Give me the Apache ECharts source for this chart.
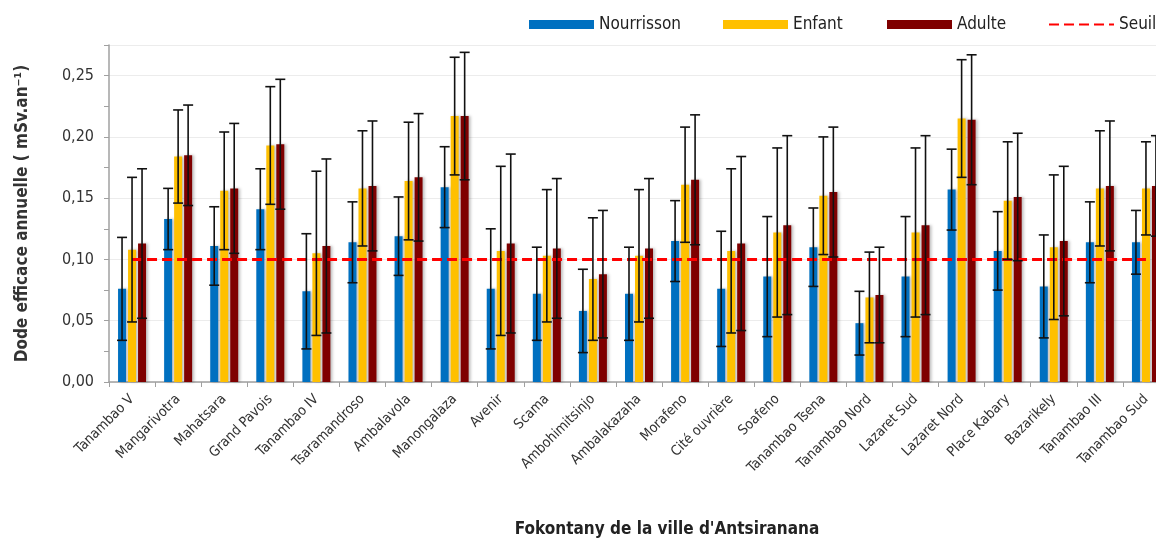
<!DOCTYPE html>
<html>
<head>
<meta charset="utf-8">
<script src="https://cdn.jsdelivr.net/npm/echarts@6/dist/echarts.min.js"></script>
<style>
  html, body { margin: 0; padding: 0; background: #fff; overflow: hidden; }
  /* the original figure is cropped on the right: draw slightly wider than the window */
  #chart { width: 1170px; height: 540px; }
</style>
</head>
<body>
<div id="chart"></div>
<script>
// fokontany (axe des x)
const categories = [
  "Tanambao V", "Mangarivotra", "Mahatsara", "Grand Pavois", "Tanambao IV",
  "Tsaramandroso", "Ambalavola", "Manongalaza", "Avenir", "Scama",
  "Ambohimitsinjo", "Ambalakazaha", "Morafeno", "Cité ouvrière", "Soafeno",
  "Tanambao Tsena", "Tanambao Nord", "Lazaret Sud", "Lazaret Nord", "Place Kabary",
  "Bazarikely", "Tanambao III", "Tanambao Sud"
];

// dose moyenne par classe d'âge
const nourrisson = [0.076, 0.133, 0.111, 0.141, 0.074, 0.114, 0.119, 0.159, 0.076, 0.072, 0.058, 0.072, 0.115, 0.076, 0.086, 0.110, 0.048, 0.086, 0.157, 0.107, 0.078, 0.114, 0.114];
const enfant = [0.108, 0.184, 0.156, 0.193, 0.105, 0.158, 0.164, 0.217, 0.107, 0.103, 0.084, 0.103, 0.161, 0.107, 0.122, 0.152, 0.069, 0.122, 0.215, 0.148, 0.110, 0.158, 0.158];
const adulte = [0.113, 0.185, 0.158, 0.194, 0.111, 0.160, 0.167, 0.217, 0.113, 0.109, 0.088, 0.109, 0.165, 0.113, 0.128, 0.155, 0.071, 0.128, 0.214, 0.151, 0.115, 0.160, 0.160];

// écart-type (barres d'erreur)
const errNourrisson = [0.042, 0.025, 0.032, 0.033, 0.047, 0.033, 0.032, 0.033, 0.049, 0.038, 0.034, 0.038, 0.033, 0.047, 0.049, 0.032, 0.026, 0.049, 0.033, 0.032, 0.042, 0.033, 0.026];
const errEnfant = [0.059, 0.038, 0.048, 0.048, 0.067, 0.047, 0.048, 0.048, 0.069, 0.054, 0.050, 0.054, 0.047, 0.067, 0.069, 0.048, 0.037, 0.069, 0.048, 0.048, 0.059, 0.047, 0.038];
const errAdulte = [0.061, 0.041, 0.053, 0.053, 0.071, 0.053, 0.052, 0.052, 0.073, 0.057, 0.052, 0.057, 0.053, 0.071, 0.073, 0.053, 0.039, 0.073, 0.053, 0.052, 0.061, 0.053, 0.041];

// seuil de 0,1 mSv/an
const seuil = [0.1, 0.1, 0.1, 0.1, 0.1, 0.1, 0.1, 0.1, 0.1, 0.1, 0.1, 0.1, 0.1, 0.1, 0.1, 0.1, 0.1, 0.1, 0.1, 0.1, 0.1, 0.1, 0.1];

const yTicks = [0, 0.05, 0.1, 0.15, 0.2, 0.25];

const FONT = "'Liberation Sans Narrow', 'DejaVu Sans Condensed', 'Roboto', sans-serif";

function errData(values, errs) {
  return values.map((v, i) => [i, v - errs[i], v + errs[i]]);
}

function errorBar(offset) {
  return function (params, api) {
    const i = api.value(0);
    const lo = api.coord([i, api.value(1)]);
    const hi = api.coord([i, api.value(2)]);
    const x = lo[0] + offset;
    const cap = 5;
    const style = { stroke: "#111", lineWidth: 1.6 };
    return {
      type: "group",
      children: [
        { type: "line", shape: { x1: x, y1: hi[1], x2: x, y2: lo[1] }, style: style },
        { type: "line", shape: { x1: x - cap, y1: hi[1], x2: x + cap, y2: hi[1] }, style: style },
        { type: "line", shape: { x1: x - cap, y1: lo[1], x2: x + cap, y2: lo[1] }, style: style },
      ],
    };
  };
}

// one legend per item, so each sits where it is in the figure
function legendAt(left, item) {
  return {
    left: left,
    top: 11,
    itemWidth: 65,
    itemHeight: 9,
    itemGap: 0,
    textStyle: { fontFamily: FONT, fontSize: 17, color: "#222" },
    data: [item],
  };
}

const barShadow = {
  shadowColor: "rgba(0,0,0,0.25)",
  shadowBlur: 3,
  shadowOffsetX: 2,
};

const chart = echarts.init(document.getElementById("chart"));
chart.setOption({
  animation: false,
  backgroundColor: "#fff",
  legend: [
    legendAt(524, { name: "Nourrisson", icon: "rect" }),
    legendAt(718, { name: "Enfant", icon: "rect" }),
    legendAt(882, { name: "Adulte", icon: "rect" }),
    legendAt(1043, { name: "Seuil", itemStyle: { opacity: 0 } }),
  ],
  grid: { left: 109, right: 1, top: 45, bottom: 158 },
  xAxis: {
    type: "category",
    data: categories,
    axisLine: { lineStyle: { color: "#a0a0a0", width: 1.5 } },
    axisTick: { show: true, length: 5, lineStyle: { color: "#a0a0a0" } },
    axisLabel: {
      interval: 0,
      rotate: 45,
      margin: 15,
      fontFamily: FONT,
      fontSize: 14,
      color: "#333",
    },
  },
  yAxis: {
    type: "value",
    min: 0,
    max: 0.275,
    interval: 0.05,
    name: "Dode efficace annuelle ( mSv.an⁻¹)",
    nameLocation: "middle",
    nameGap: 78,
    nameTextStyle: { fontFamily: FONT, fontSize: 17, fontWeight: "bold", color: "#333" },
    axisLine: { show: true, lineStyle: { color: "#a0a0a0", width: 1.5 } },
    axisTick: { show: true, inside: false, length: 5, lineStyle: { color: "#a0a0a0" } },
    minorTick: { show: true, splitNumber: 2, length: 5, lineStyle: { color: "#a0a0a0" } },
    splitLine: { lineStyle: { color: "#ececec", width: 1 } },
    axisLabel: {
      margin: 15,
      fontFamily: FONT,
      fontSize: 16,
      color: "#333",
      formatter: function (v) {
        return yTicks.some((t) => Math.abs(t - v) < 1e-9) ? v.toFixed(2).replace(".", ",") : "";
      },
    },
  },
  graphic: [
    {
      type: "text",
      x: 667,
      y: 530,
      style: {
        text: "Fokontany de la ville d'Antsiranana",
        textAlign: "center",
        textVerticalAlign: "middle",
        font: "bold 17px " + FONT,
        fill: "#222",
      },
    },
  ],
  series: [
    {
      name: "Nourrisson",
      type: "bar",
      barWidth: 8,
      barGap: "25%",
      itemStyle: Object.assign({ color: "#0070C0" }, barShadow),
      data: nourrisson,
    },
    {
      name: "Enfant",
      type: "bar",
      barWidth: 8,
      barGap: "25%",
      itemStyle: Object.assign({ color: "#FFC000" }, barShadow),
      data: enfant,
    },
    {
      name: "Adulte",
      type: "bar",
      barWidth: 8,
      barGap: "25%",
      itemStyle: Object.assign({ color: "#7F0000" }, barShadow),
      data: adulte,
    },
    {
      name: "Seuil",
      type: "line",
      symbol: "none",
      z: 5,
      lineStyle: { color: "#FF0000", width: 3, type: [10, 5] },
      itemStyle: { color: "#FF0000" },
      data: seuil,
    },
    {
      type: "custom",
      renderItem: errorBar(-10),
      encode: { x: 0, y: [1, 2] },
      z: 6,
      data: errData(nourrisson, errNourrisson),
    },
    {
      type: "custom",
      renderItem: errorBar(0),
      encode: { x: 0, y: [1, 2] },
      z: 6,
      data: errData(enfant, errEnfant),
    },
    {
      type: "custom",
      renderItem: errorBar(10),
      encode: { x: 0, y: [1, 2] },
      z: 6,
      data: errData(adulte, errAdulte),
    },
  ],
});
</script>
</body>
</html>
